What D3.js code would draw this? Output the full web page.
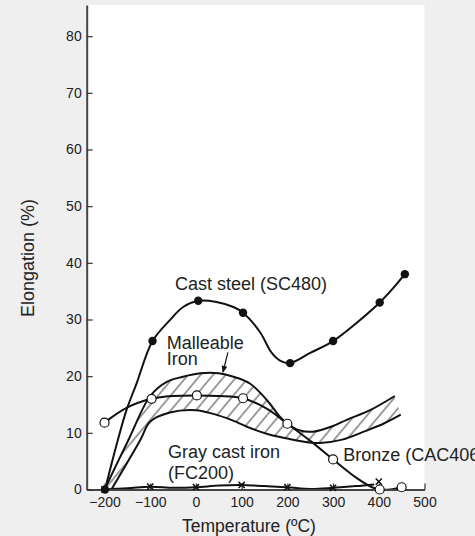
<!DOCTYPE html>
<html>
<head>
<meta charset="utf-8">
<script src="https://cdn.jsdelivr.net/npm/d3@7"></script>
<style>
  body { margin: 0; background: #efefef; }
  svg { display: block; }
  text { font-family: "Liberation Sans", Arial, Helvetica, sans-serif; fill: #222; }
</style>
</head>
<body>
<div id="chart"></div>
<script>
// tick labels
const xTicks = [-200, -100, 0, 100, 200, 300, 400, 500];
const yTicks = [0, 10, 20, 30, 40, 50, 60, 70, 80];

const castX = [-199, -95, 5, 103, 206, 300, 402, 457];
const castY = [0, 26.2, 33.3, 31.2, 22.3, 26.2, 33, 38];
const castCurveX = [-199, -171, -152, -130, -95, -57, -28, 5, 45, 82, 103, 140, 165, 185, 206, 250, 300, 350, 402, 430, 457];
const castCurveY = [0, 8.7, 14, 18.7, 26.2, 29.9, 32.2, 33.3, 33.1, 32.2, 31.2, 27.8, 24.2, 22.7, 22.3, 24.1, 26.2, 29.3, 33, 35.4, 38];

// bronze (CAC406)
const bronzeX = [-200, -97, 2, 103, 200, 300, 402, 450];
const bronzeY = [11.8, 16, 16.6, 16.1, 11.6, 5.3, 0, 0.4];
const bronzeCurveX = [-200, -152, -97, -50, 2, 50, 103, 154, 200, 253, 300, 352, 385, 402, 425, 450];
const bronzeCurveY = [11.8, 14.4, 16, 16.5, 16.6, 16.5, 16.1, 14.3, 11.6, 8.4, 5.3, 2.0, 0.4, 0, 0, 0.4];

// gray cast iron (FC200)
const grayX = [-200, -100, 0, 100, 200, 300, 400];
const grayY = [0, 0.5, 0.4, 0.8, 0.4, 0.3, 1.4];
const grayCurveX = [-200, -150, -100, -50, 0, 50, 100, 150, 200, 250, 300, 350, 390];
const grayCurveY = [0, 0.2, 0.5, 0.3, 0.4, 0.7, 0.8, 0.6, 0.4, 0.1, 0.3, 0.6, 0.9];

// malleable iron band
const upperX = [-200, -148, -100, -64, -28, 10, 50, 82, 118, 155, 184, 200, 228, 256, 300, 330, 381, 435];
const upperY = [0, 8.7, 16.5, 19, 19.9, 20.5, 20.5, 19.9, 18.7, 15.8, 12.8, 11.6, 10.4, 10.2, 11.2, 12.3, 14, 16.5];
const lowerX = [-185, -122, -100, -57, 0, 40, 80, 120, 160, 200, 240, 271, 320, 370, 410, 448];
const lowerY = [0, 8.7, 12, 13.6, 14, 13.3, 12.2, 10.8, 9.7, 9.0, 8.4, 8.2, 8.8, 10.3, 11.6, 13.2];

const width = 475, height = 536;
const margin = {top: 5, right: 50.5, bottom: 46.5, left: 86.7};

const svg = d3.select('#chart').append('svg')
  .attr('width', width)
  .attr('height', height);

const x = d3.scaleLinear().domain([-239, 500]).range([margin.left, width - margin.right]);
const y = d3.scaleLinear().domain([0, 85.5]).range([height - margin.bottom, margin.top]);

// white plot area
svg.append('rect')
  .attr('x', x(-239)).attr('y', y(85.5))
  .attr('width', x(500) - x(-239)).attr('height', y(0) - y(85.5))
  .attr('fill', '#fff');

const defs = svg.append('defs');
defs.append('pattern')
  .attr('id', 'hatch')
  .attr('patternUnits', 'userSpaceOnUse')
  .attr('width', 9.6).attr('height', 20)
  .attr('patternTransform', 'rotate(40)')
  .append('line')
    .attr('x1', 1).attr('y1', 0).attr('x2', 1).attr('y2', 20)
    .attr('stroke', '#222').attr('stroke-width', 0.9);

defs.append('marker')
  .attr('id', 'arrow')
  .attr('viewBox', '0 0 10 10')
  .attr('refX', 9).attr('refY', 5)
  .attr('markerWidth', 6).attr('markerHeight', 6)
  .attr('orient', 'auto')
  .append('path')
    .attr('d', 'M0,1 L10,5 L0,9 Z')
    .attr('fill', '#111');

const zip = (xs, ys) => xs.map((v, i) => [v, ys[i]]);
const line = d3.line()
  .x(d => x(d[0]))
  .y(d => y(d[1]))
  .curve(d3.curveCatmullRom.alpha(0.5));

// hatched band
const bandPath = line(zip(upperX, upperY)) + 'L' + line(zip(lowerX, lowerY).reverse()).slice(1) + 'Z';
svg.append('path')
  .attr('d', bandPath)
  .attr('fill', 'url(#hatch)')
  .attr('stroke', 'none');

// curves
[
  [upperX, upperY],
  [lowerX, lowerY],
  [castCurveX, castCurveY],
  [bronzeCurveX, bronzeCurveY],
  [grayCurveX, grayCurveY]
].forEach(([xs, ys]) => {
  svg.append('path')
    .datum(zip(xs, ys))
    .attr('d', line)
    .attr('fill', 'none')
    .attr('stroke', '#111')
    .attr('stroke-width', 2);
});

// axes
const xAxis = svg.append('g')
  .attr('transform', `translate(0,${y(0)})`)
  .call(d3.axisBottom(x).tickValues(xTicks).tickSize(-6).tickSizeOuter(0).tickPadding(8));
const yAxis = svg.append('g')
  .attr('transform', `translate(${x(-239)},0)`)
  .call(d3.axisLeft(y).tickValues(yTicks).tickSize(-6).tickSizeOuter(0).tickPadding(5));

[xAxis, yAxis].forEach(g => {
  g.select('.domain').attr('stroke', '#444').attr('stroke-width', 2);
  g.selectAll('.tick line').attr('stroke', '#333').attr('stroke-width', 1.2);
  g.selectAll('.tick text')
    .style('font-family', '"Liberation Sans", Arial, sans-serif')
    .style('font-size', '14px')
    .attr('fill', '#222');
});

// markers
svg.append('g').selectAll('circle')
  .data(zip(castX, castY))
  .enter().append('circle')
    .attr('cx', d => x(d[0]))
    .attr('cy', d => y(d[1]))
    .attr('r', 4.2)
    .attr('fill', '#111');

svg.append('g').selectAll('circle')
  .data(zip(bronzeX, bronzeY))
  .enter().append('circle')
    .attr('cx', d => x(d[0]))
    .attr('cy', d => y(d[1]))
    .attr('r', 4.5)
    .attr('fill', '#fff')
    .attr('stroke', '#111')
    .attr('stroke-width', 1.2);

svg.append('g').selectAll('path')
  .data(zip(grayX, grayY))
  .enter().append('path')
    .attr('d', d => {
      const cx = x(d[0]), cy = y(d[1]), s = 3.1;
      return `M${cx - s},${cy - s}L${cx + s},${cy + s}M${cx - s},${cy + s}L${cx + s},${cy - s}`;
    })
    .attr('stroke', '#111')
    .attr('stroke-width', 1.5);

// labels (data coords)
const labels = [
  {t: 'Cast steel (SC480)', x: -46, y: 35.2},
  {t: 'Malleable', x: -64, y: 24.8},
  {t: 'Iron', x: -64, y: 21.9},
  {t: 'Gray cast iron', x: -61, y: 5.6},
  {t: '(FC200)', x: -61, y: 1.8},
  {t: 'Bronze (CAC406)', x: 322, y: 5.1}
];
svg.append('g').selectAll('text')
  .data(labels)
  .enter().append('text')
    .attr('x', d => x(d.x))
    .attr('y', d => y(d.y))
    .style('font-size', '18px')
    .text(d => d.t);

// arrow to malleable iron band
svg.append('line')
  .attr('x1', x(70)).attr('y1', y(24.2))
  .attr('x2', x(59)).attr('y2', y(20.7))
  .attr('stroke', '#111')
  .attr('stroke-width', 1.2)
  .attr('marker-end', 'url(#arrow)');

// axis titles
svg.append('text')
  .attr('x', x(116))
  .attr('y', 532)
  .attr('text-anchor', 'middle')
  .style('font-size', '17.5px')
  .text('Temperature (ºC)');

svg.append('text')
  .attr('transform', `translate(33.5,258) rotate(-90)`)
  .attr('text-anchor', 'middle')
  .style('font-size', '18px')
  .text('Elongation (%)');
</script>
</body>
</html>
